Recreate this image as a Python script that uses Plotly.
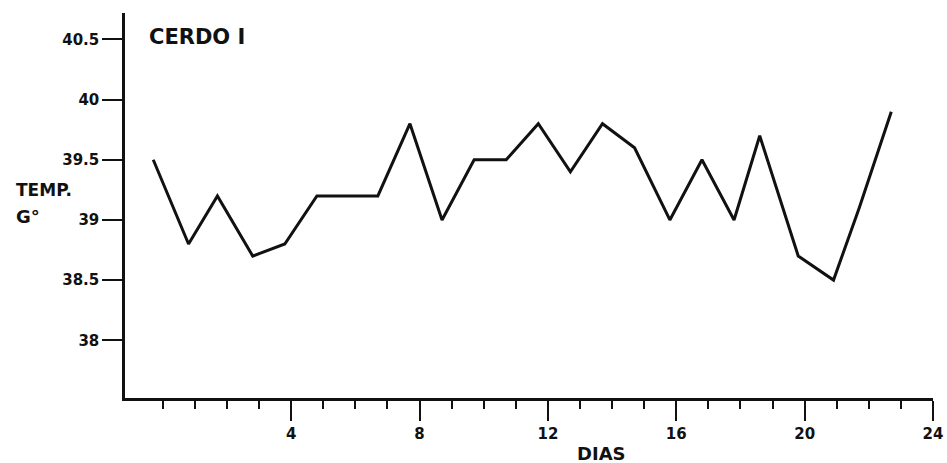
import plotly.graph_objects as go

# Data
dias = [-0.3, 0.8, 1.7, 2.8, 3.8, 4.8, 5.8, 6.7, 7.7, 8.7, 9.7, 10.7,
        11.7, 12.7, 13.7, 14.7, 15.8, 16.8, 17.8, 18.6, 19.8, 20.9, 21.7, 22.7]
temp = [39.5, 38.8, 39.2, 38.7, 38.8, 39.2, 39.2, 39.2, 39.8, 39.0, 39.5, 39.5,
        39.8, 39.4, 39.8, 39.6, 39.0, 39.5, 39.0, 39.7, 38.7, 38.5, 39.1, 39.9]
x_ticks = [4, 8, 12, 16, 20, 24]
x_minor_ticks = list(range(0, 25))
y_ticks = [38, 38.5, 39, 39.5, 40, 40.5]
y_labels = ["38", "38.5", "39", "39.5", "40", "40.5"]

W, H = 947, 463
L, R, T, B = 125, 14, 13, 65
FONT = "DejaVu Sans"

fig = go.Figure()
fig.add_trace(go.Scatter(x=dias, y=temp, mode="lines",
                         line=dict(color="#111111", width=3), showlegend=False))

fig.update_layout(
    width=W, height=H,
    margin=dict(l=L, r=R, t=T, b=B),
    paper_bgcolor="white", plot_bgcolor="white",
    xaxis=dict(range=[-1.18, 24], tickvals=x_ticks, ticktext=[str(v) for v in x_ticks],
               ticks="outside", ticklen=20, tickwidth=2, tickcolor="#111",
               showline=True, linecolor="#111", linewidth=2.5,
               showgrid=False, zeroline=False, automargin=False,
               tickfont=dict(family=FONT, size=15, color="#111", weight="bold"),
               minor=dict(tickvals=x_minor_ticks, ticks="outside", ticklen=8,
                          tickwidth=2, tickcolor="#111", showgrid=False)),
    yaxis=dict(range=[37.52, 40.72], tickvals=y_ticks, ticktext=y_labels,
               ticks="outside", ticklen=20, tickwidth=2, tickcolor="#111",
               showline=True, linecolor="#111", linewidth=2.5,
               showgrid=False, zeroline=False, automargin=False,
               tickfont=dict(family=FONT, size=15, color="#111", weight="bold")),
)

pw, ph = W - L - R, H - T - B


def px(x):
    return (x - L) / pw


def py(y):
    return 1 - (y - T) / ph


ann_font = dict(family=FONT, color="#111", weight="bold")
fig.add_annotation(text="CERDO I", xref="paper", yref="paper", x=px(147), y=py(37),
                   xanchor="left", yanchor="middle", showarrow=False,
                   font=dict(size=21, **ann_font))
fig.add_annotation(text="TEMP.", xref="paper", yref="paper", x=px(14), y=py(190),
                   xanchor="left", yanchor="middle", showarrow=False,
                   font=dict(size=17, **ann_font))
fig.add_annotation(text="G°", xref="paper", yref="paper", x=px(14), y=py(217),
                   xanchor="left", yanchor="middle", showarrow=False,
                   font=dict(size=18, **ann_font))
fig.add_annotation(text="DIAS", xref="paper", yref="paper", x=px(601), y=py(453),
                   xanchor="center", yanchor="middle", showarrow=False,
                   font=dict(size=18, **ann_font))

fig.write_html("out.html", config={"displayModeBar": False},
               post_script="document.body.style.margin='0';document.body.style.overflow='hidden';")
